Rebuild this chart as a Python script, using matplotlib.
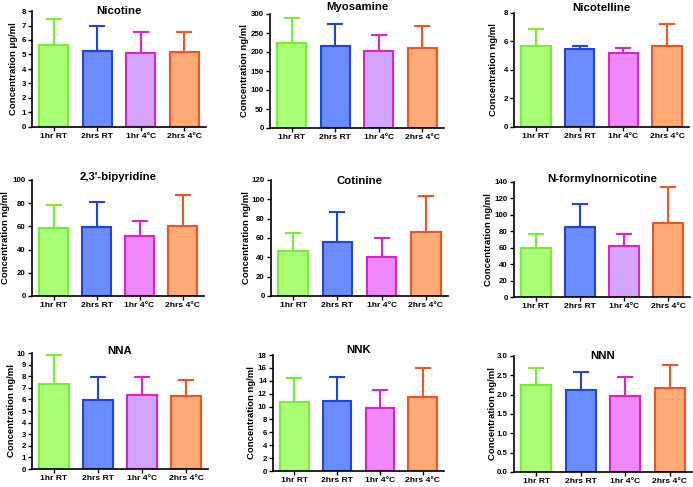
import matplotlib
matplotlib.use("Agg")
import matplotlib.pyplot as plt

plt.rcParams['font.family'] = ['Liberation Sans', 'DejaVu Sans']
plt.rcParams['font.weight'] = 'bold'

categories = ["1hr RT", "2hrs RT", "1hr 4°C", "2hrs 4°C"]

titles = ["Nicotine", "Myosamine", "Nicotelline",
          "2,3'-bipyridine", "Cotinine", "N-formylnornicotine",
          "NNA", "NNK", "NNN"]
ylabels = ["Concentration μg/ml"] + ["Concentration ng/ml"] * 8

means = [
    [5.63, 5.22, 5.08, 5.15],
    [224.6, 215.0, 201.8, 210.5],
    [5.70, 5.47, 5.21, 5.65],
    [58.2, 59.4, 51.3, 60.5],
    [46.4, 55.7, 40.2, 66.0],
    [59.9, 85.4, 62.3, 90.2],
    [7.30, 5.95, 6.35, 6.26],
    [10.74, 10.84, 9.80, 11.46],
    [2.25, 2.11, 1.96, 2.16],
]
upper = [
    [7.43, 6.99, 6.53, 6.57],
    [288.6, 272.8, 244.7, 268.4],
    [6.86, 5.70, 5.53, 7.26],
    [78.1, 81.3, 64.8, 87.0],
    [65.0, 87.3, 59.5, 103.2],
    [77.3, 113.3, 76.9, 134.0],
    [9.80, 7.93, 7.93, 7.70],
    [14.47, 14.57, 12.6, 16.03],
    [2.68, 2.59, 2.45, 2.77],
]
ymax = [8, 300, 8, 100, 120, 140, 10, 18, 3.0]
ystep = [1, 50, 2, 20, 20, 20, 1, 2, 0.5]

# axes boxes in pixels: left, right, top, bottom
boxes = [
    (32, 206, 11, 127), (270, 444, 14, 128), (514, 689, 13, 127),
    (32, 204, 180, 296), (271, 448, 180, 296), (514, 690, 182, 297),
    (32, 208, 353, 469), (273, 444, 355, 471), (514, 692, 356, 472),
]
label_cx = [14, 245, 494, 6, 247, 489, 12, 252, 493]
title_off = [0, 7, 5, 3, -1, 3, 2, 5, 0]

lilac = '#d4a4fa'
pink = '#ee88f8'
third = [lilac, lilac, pink, pink, pink, lilac, lilac, pink, pink]

W, H = 693, 487
fig = plt.figure(figsize=(W / 100, H / 100), dpi=100)

edge = ['#77ee33', '#2244dd', '#dd22cc', '#ee5522']

for i in range(9):
    l, r, t, b = boxes[i]
    ax = fig.add_axes([l / W, 1 - b / H, (r - l) / W, (b - t) / H])
    fills = ['#aaff77', '#6b8cff', third[i], '#ffaa77']
    x = range(4)
    ax.bar(x, means[i], width=0.67, color=fills, edgecolor=edge, linewidth=1.5, zorder=2)
    for j in range(4):
        ax.errorbar(j, means[i][j], yerr=[[0], [upper[i][j] - means[i][j]]],
                    color=edge[j], capsize=6, elinewidth=1.5, capthick=1.5, zorder=1)
    ax.set_xlim(-0.5, 3.5)
    ax.set_ylim(0, ymax[i])
    n = int(round(ymax[i] / ystep[i]))
    ticks = [k * ystep[i] for k in range(n + 1)]
    ax.set_yticks(ticks)
    if ystep[i] < 1:
        ax.set_yticklabels([f"{v:.1f}" for v in ticks])
    ax.set_xticks(list(x))
    ax.set_xticklabels(categories)
    ax.spines['top'].set_visible(False)
    ax.spines['right'].set_visible(False)
    ax.spines['left'].set_linewidth(1.2)
    ax.spines['bottom'].set_linewidth(1.2)
    ax.tick_params(axis='both', length=3, width=1.0, pad=1.5)
    ax.tick_params(axis='x', labelsize=6.1)
    ax.tick_params(axis='y', labelsize=5.7)
    for lab in ax.get_xticklabels() + ax.get_yticklabels():
        lab.set_fontweight('bold')
    ax.set_ylabel(ylabels[i], fontsize=6.8, fontweight='bold')
    ax.yaxis.set_label_coords((label_cx[i] + 4 - l) / (r - l), 0.5)
    ax.annotate(titles[i], xy=(0.5, 1.0), xycoords='axes fraction',
                xytext=(0, title_off[i] * 0.72), textcoords='offset points',
                ha='center', va='center', fontsize=8.2, fontweight='bold')

fig.savefig("out.png", dpi=100)
